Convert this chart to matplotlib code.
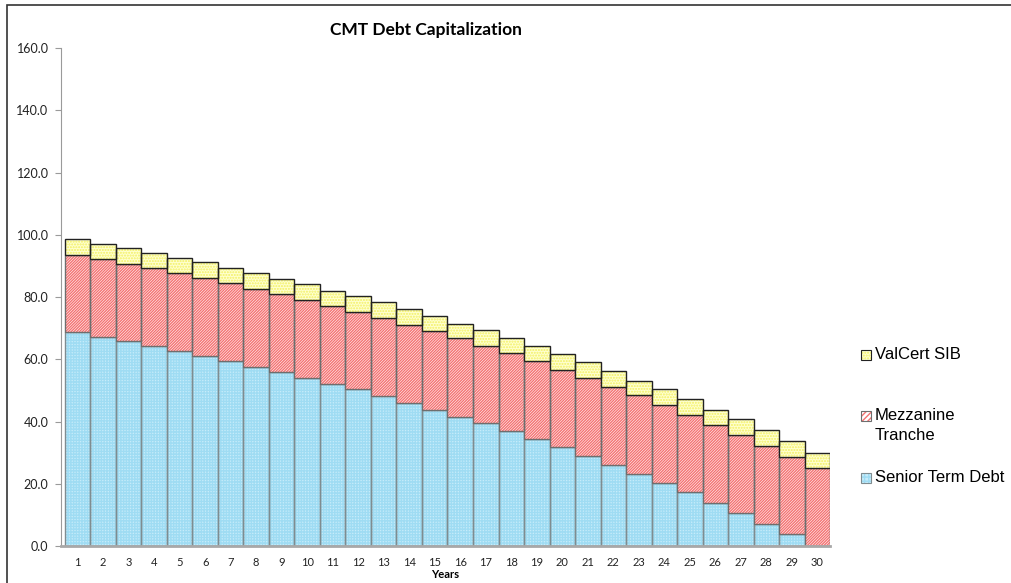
import numpy as np
import matplotlib.pyplot as plt
from matplotlib.patches import Rectangle

# Values (stack tops per year)
years = list(range(1, 31))
senior_debt = [68.7, 67.3, 65.8, 64.2, 62.5, 60.9, 59.3, 57.6, 55.8, 54.0,
               52.1, 50.3, 48.1, 46.1, 43.8, 41.5, 39.4, 36.8, 34.3, 31.7,
               28.8, 26.0, 23.1, 20.3, 17.2, 13.9, 10.6, 7.2, 3.8, 0.0]
mezz_top = [93.5, 92.1, 90.7, 89.2, 87.6, 86.1, 84.5, 82.7, 80.9, 79.1,
            77.0, 75.1, 73.2, 70.9, 69.0, 66.7, 64.2, 61.9, 59.3, 56.5,
            54.0, 51.2, 48.4, 45.3, 42.2, 39.0, 35.6, 32.2, 28.6, 25.0]
total_top = [98.5, 97.1, 95.7, 94.3, 92.6, 91.1, 89.4, 87.8, 85.8, 84.2,
             82.0, 80.2, 78.4, 76.0, 73.8, 71.4, 69.4, 66.7, 64.2, 61.6,
             59.0, 56.2, 53.1, 50.3, 47.1, 43.8, 40.7, 37.4, 33.6, 30.0]

mezzanine = np.array(mezz_top) - np.array(senior_debt)
valcert = np.array(total_top) - np.array(mezz_top)
yticks = np.arange(0, 161, 20)

plt.rcParams['hatch.linewidth'] = 1.0

fig = plt.figure(figsize=(10.12, 5.83), dpi=100)
ax = fig.add_axes([0.0603, 0.0635, 0.760, 0.854])

# series: (values, bottom, face, hatch colour, hatch, outline)
bottom_mezz = np.array(senior_debt)
bottom_val = bottom_mezz + mezzanine
layers = [
    (senior_debt, 0, '#c6ecfa', '#9fdcf3', '++++++', '#7f8c90'),
    (mezzanine, bottom_mezz, '#ffffff', '#f47272', '/' * 12, '#6e6e6e'),
    (valcert, bottom_val, '#ffffd0', '#f2f060', '......', '#222222'),
]
for vals, bot, face, hcol, hatch, edge in layers:
    ax.bar(years, vals, bottom=bot, width=1.0, color=face, edgecolor=hcol,
           hatch=hatch, linewidth=0)
    ax.bar(years, vals, bottom=bot, width=1.0, fill=False, edgecolor=edge,
           linewidth=1.0)

ax.set_xlim(0.35, 30.5)
ax.set_ylim(0, 160)
ax.set_yticks(yticks)
ax.set_yticklabels([f'{v:.1f}' for v in yticks], fontsize=9, family='Lato',
                   color='#222222')
ax.set_xticks(years)
ax.set_xticklabels([str(y) for y in years], fontsize=8, family='Lato',
                   color='#222222')
ax.tick_params(axis='x', length=0, pad=8)
ax.tick_params(axis='y', length=4, color='#9a9a9a', pad=5)
for s in ['top', 'right']:
    ax.spines[s].set_visible(False)
ax.spines['left'].set_color('#9a9a9a')
ax.spines['bottom'].set_color('#a8a8a8')
ax.spines['bottom'].set_linewidth(2)

ax.set_xlabel('Years', fontsize=8, family='Lato', fontweight='bold',
              labelpad=1)
fig.text(0.421, 0.948, 'CMT Debt Capitalization', ha='center', va='center',
         fontsize=12.5, family='Lato', fontweight='bold')

# legend drawn by hand to match the spaced layout
legend_items = [
    ('ValCert SIB', 355, '#ffffd0', '#f2f060', '......', '#222222'),
    ('Mezzanine\nTranche', 416, '#ffffff', '#f47272', '/' * 6, '#6e6e6e'),
    ('Senior Term Debt', 478, '#c6ecfa', '#9fdcf3', '++++', '#7f8c90'),
]
W, H = 1012, 583
for label, ypix, face, hcol, hatch, edge in legend_items:
    fig.add_artist(Rectangle((861 / W, 1 - (ypix + 5) / H), 10 / W, 10 / H,
                             transform=fig.transFigure, facecolor=face,
                             edgecolor=hcol, hatch=hatch, linewidth=0))
    fig.add_artist(Rectangle((861 / W, 1 - (ypix + 5) / H), 10 / W, 10 / H,
                             transform=fig.transFigure, fill=False,
                             edgecolor=edge, linewidth=0.8))
    fig.text(875 / W, 1 - (ypix - 8) / H, label, ha='left', va='top',
             fontsize=12, family='Liberation Sans', linespacing=1.45)

# outer chart frame
fig.add_artist(Rectangle((7 / W, -0.1), 1.2, 1 - 5 / H + 0.1,
                         transform=fig.transFigure, fill=False,
                         edgecolor='#333333', linewidth=1.2))

fig.savefig('out.png', dpi=100)
